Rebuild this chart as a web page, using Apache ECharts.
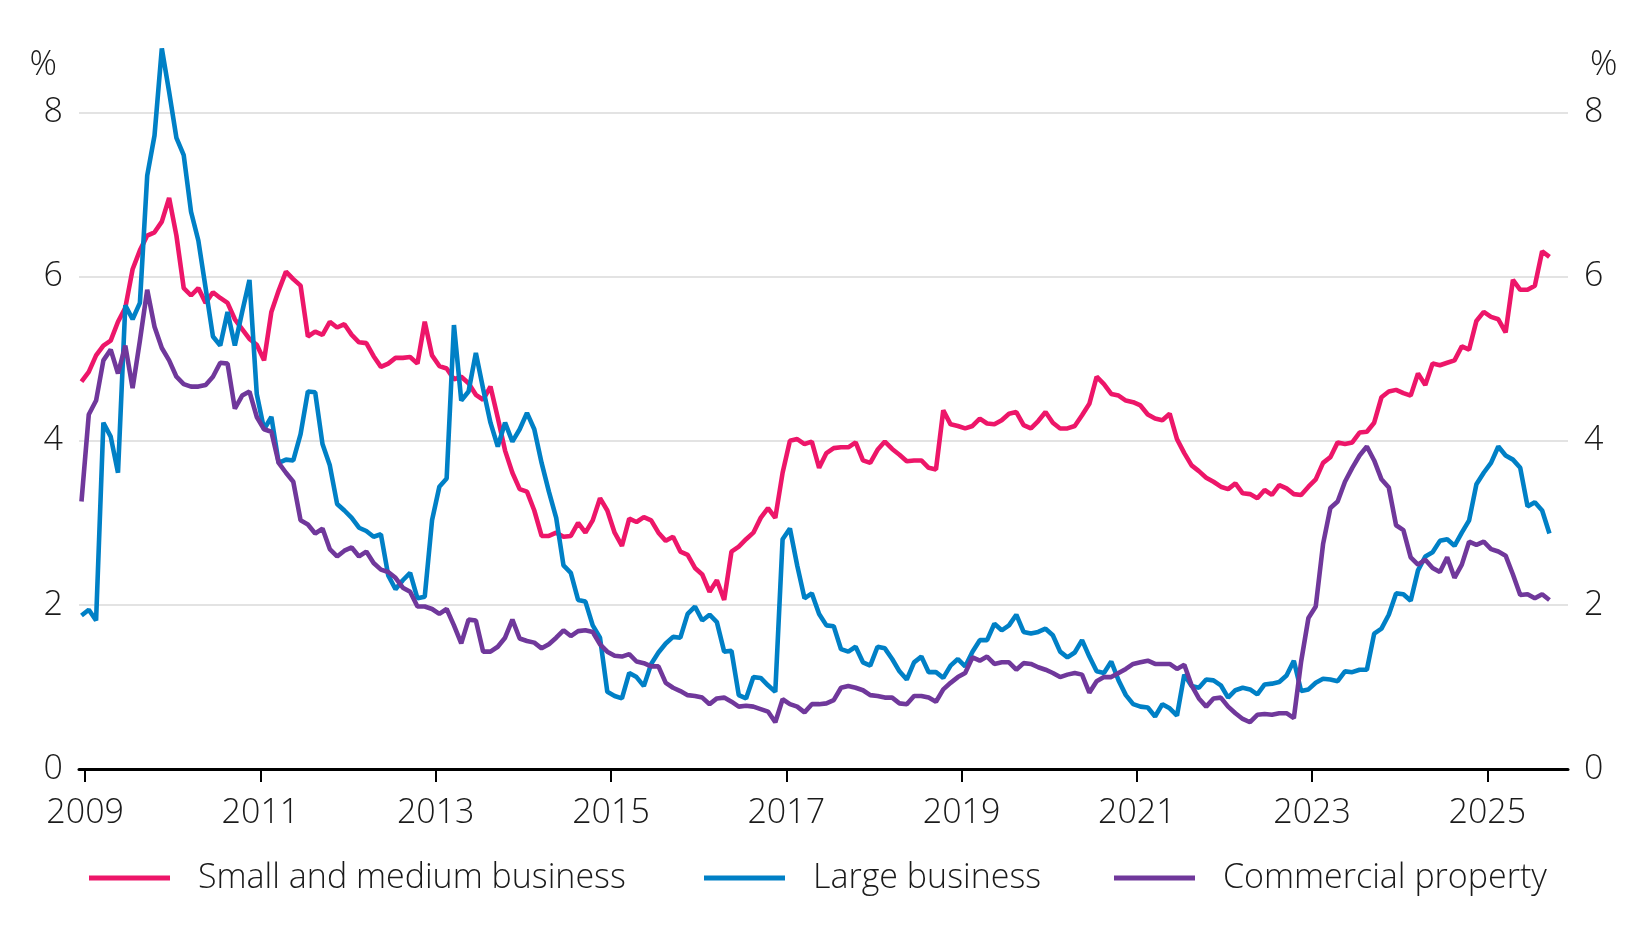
<!DOCTYPE html>
<html>
<head>
<meta charset="utf-8">
<title>Business lending</title>
<script src="https://cdn.jsdelivr.net/npm/echarts@6/dist/echarts.min.js"></script>
<style>
  html, body { margin: 0; padding: 0; background: #fff; }
  #myChart { width: 1648px; height: 944px; }
</style>
</head>
<body>
<div id="myChart"></div>
<script>
// monthly, Dec 2008 .. Sep 2025 (values in %)
const smallMedium = [
  4.72, 4.84, 5.04, 5.16, 5.22, 5.45, 5.62, 6.09, 6.32, 6.50, 6.54, 6.67, 6.96, 6.50, 5.86, 5.77, 5.86, 5.68, 5.81, 5.74, 5.68, 5.48, 5.36, 5.24, 5.17, 4.98,
  5.57, 5.83, 6.06, 5.97, 5.89, 5.27, 5.33, 5.29, 5.45, 5.38, 5.42, 5.29, 5.20, 5.19, 5.03, 4.90, 4.94, 5.01, 5.01, 5.02, 4.94, 5.45, 5.04, 4.91, 4.88,
  4.75, 4.78, 4.70, 4.56, 4.50, 4.66, 4.28, 3.88, 3.61, 3.41, 3.38, 3.15, 2.84, 2.84, 2.88, 2.83, 2.84, 3.00, 2.88, 3.03, 3.30, 3.15, 2.88, 2.72, 3.05, 3.01,
  3.07, 3.03, 2.88, 2.78, 2.83, 2.65, 2.61, 2.45, 2.37, 2.16, 2.30, 2.06, 2.65, 2.71, 2.80, 2.88, 3.06, 3.18, 3.06, 3.61, 4.00, 4.02, 3.96, 3.99, 3.67, 3.85,
  3.91, 3.92, 3.92, 3.98, 3.76, 3.73, 3.89, 3.99, 3.90, 3.83, 3.75, 3.76, 3.76, 3.67, 3.65, 4.37, 4.20, 4.18, 4.15, 4.18, 4.27, 4.21, 4.20, 4.25, 4.33, 4.35,
  4.19, 4.15, 4.24, 4.35, 4.22, 4.15, 4.15, 4.18, 4.31, 4.45, 4.78, 4.69, 4.57, 4.55, 4.49, 4.47, 4.43, 4.32, 4.27, 4.25, 4.33, 4.02, 3.85, 3.70, 3.63, 3.55,
  3.50, 3.44, 3.41, 3.48, 3.36, 3.35, 3.30, 3.40, 3.34, 3.46, 3.42, 3.35, 3.34, 3.44, 3.53, 3.73, 3.80, 3.98, 3.96, 3.98, 4.10, 4.11, 4.22, 4.53, 4.60, 4.62,
  4.58, 4.55, 4.82, 4.68, 4.94, 4.92, 4.95, 4.98, 5.15, 5.11, 5.46, 5.57, 5.51, 5.48, 5.32, 5.96, 5.84, 5.84, 5.89, 6.31, 6.24
];
const large = [
  1.87, 1.94, 1.81, 4.22, 4.05, 3.61, 5.65, 5.48, 5.68, 7.23, 7.72, 8.78, 8.25, 7.69, 7.48, 6.79, 6.44, 5.86, 5.27, 5.16, 5.57, 5.16, 5.57, 5.96, 4.57, 4.14,
  4.29, 3.73, 3.77, 3.76, 4.08, 4.60, 4.59, 3.96, 3.70, 3.23, 3.15, 3.06, 2.94, 2.90, 2.83, 2.86, 2.36, 2.19, 2.30, 2.39, 2.08, 2.10, 3.03, 3.44, 3.54,
  5.41, 4.49, 4.60, 5.07, 4.63, 4.22, 3.93, 4.22, 3.99, 4.14, 4.34, 4.14, 3.73, 3.38, 3.06, 2.48, 2.39, 2.06, 2.04, 1.75, 1.60, 0.94, 0.89, 0.86, 1.17, 1.12,
  1.01, 1.28, 1.42, 1.53, 1.61, 1.60, 1.89, 1.98, 1.81, 1.88, 1.79, 1.43, 1.44, 0.90, 0.86, 1.12, 1.11, 1.02, 0.94, 2.80, 2.93, 2.48, 2.08, 2.14, 1.89, 1.75,
  1.74, 1.46, 1.43, 1.49, 1.30, 1.26, 1.49, 1.47, 1.34, 1.19, 1.09, 1.30, 1.37, 1.18, 1.18, 1.11, 1.26, 1.34, 1.25, 1.43, 1.57, 1.57, 1.77, 1.69, 1.75, 1.88,
  1.67, 1.65, 1.67, 1.71, 1.63, 1.43, 1.36, 1.42, 1.57, 1.37, 1.19, 1.17, 1.31, 1.08, 0.90, 0.79, 0.76, 0.75, 0.64, 0.79, 0.74, 0.65, 1.15, 1.01, 0.99, 1.09,
  1.08, 1.02, 0.87, 0.96, 0.99, 0.97, 0.91, 1.03, 1.04, 1.06, 1.14, 1.32, 0.95, 0.97, 1.05, 1.10, 1.09, 1.07, 1.19, 1.18, 1.21, 1.21, 1.65, 1.71, 1.88, 2.14,
  2.13, 2.05, 2.42, 2.59, 2.64, 2.78, 2.80, 2.72, 2.88, 3.03, 3.47, 3.61, 3.73, 3.93, 3.82, 3.77, 3.67, 3.20, 3.25, 3.15, 2.87
];
const commercial = [
  3.26, 4.32, 4.49, 4.98, 5.11, 4.82, 5.16, 4.64, 5.22, 5.84, 5.39, 5.13, 4.98, 4.78, 4.69, 4.66, 4.66, 4.68, 4.78, 4.95, 4.94, 4.39, 4.55, 4.60, 4.29, 4.14,
  4.11, 3.73, 3.61, 3.50, 3.03, 2.98, 2.87, 2.93, 2.68, 2.59, 2.66, 2.70, 2.59, 2.65, 2.51, 2.43, 2.40, 2.33, 2.21, 2.16, 1.98, 1.98, 1.95, 1.89, 1.95,
  1.75, 1.53, 1.82, 1.81, 1.43, 1.43, 1.49, 1.60, 1.82, 1.59, 1.56, 1.54, 1.47, 1.52, 1.60, 1.69, 1.62, 1.68, 1.69, 1.67, 1.52, 1.43, 1.38, 1.37, 1.40, 1.31,
  1.29, 1.25, 1.25, 1.05, 0.99, 0.95, 0.90, 0.89, 0.87, 0.79, 0.86, 0.87, 0.82, 0.76, 0.77, 0.76, 0.73, 0.70, 0.57, 0.85, 0.79, 0.76, 0.69, 0.79, 0.79, 0.80,
  0.84, 0.99, 1.01, 0.99, 0.96, 0.90, 0.89, 0.87, 0.87, 0.80, 0.79, 0.89, 0.89, 0.87, 0.82, 0.97, 1.05, 1.12, 1.17, 1.36, 1.32, 1.37, 1.28, 1.30, 1.30, 1.21,
  1.29, 1.28, 1.24, 1.21, 1.17, 1.12, 1.15, 1.17, 1.15, 0.93, 1.07, 1.12, 1.12, 1.17, 1.22, 1.28, 1.30, 1.32, 1.28, 1.28, 1.28, 1.22, 1.27, 1.02, 0.86, 0.76,
  0.86, 0.87, 0.76, 0.68, 0.61, 0.57, 0.66, 0.67, 0.66, 0.68, 0.68, 0.62, 1.31, 1.84, 1.98, 2.74, 3.18, 3.26, 3.50, 3.67, 3.82, 3.93, 3.76, 3.53, 3.43, 2.97,
  2.91, 2.58, 2.49, 2.55, 2.45, 2.40, 2.58, 2.33, 2.49, 2.77, 2.73, 2.77, 2.68, 2.65, 2.60, 2.37, 2.12, 2.13, 2.08, 2.13, 2.06
];
const yearTicks = [2009, 2011, 2013, 2015, 2017, 2019, 2021, 2023, 2025];
const seriesNames = ['Small and medium business', 'Large business', 'Commercial property'];

// first observation is mid-December 2008, one point a month after that
const firstMonth = 2008 + 11.5 / 12;
function toPoints(values) {
  return values.map(function (v, i) { return [firstMonth + i / 12, v]; });
}

const colors = ['#ED1669', '#0080C6', '#70389B'];
const font = '"Open Sans", "Noto Sans", sans-serif';
const textCol = '#1a1a1a';
const fs = 34;

let myChart = echarts.init(document.getElementById('myChart'));

function yAxisOf(side) {
  return {
    type: 'value',
    position: side,
    min: 0,
    max: 8,
    interval: 2,
    name: '%',
    nameLocation: 'end',
    nameGap: 30,
    nameTextStyle: {
      color: textCol, fontSize: fs, fontFamily: font, fontWeight: 300,
      align: side === 'left' ? 'right' : 'left',
      padding: side === 'left' ? [0, 22, 0, 0] : [0, 0, 0, 22]
    },
    axisLine: { show: false },
    axisTick: { show: false },
    axisLabel: {
      margin: 16,
      color: textCol, fontSize: fs, fontFamily: font, fontWeight: 300
    },
    splitLine: side === 'left'
      ? { show: true, lineStyle: { color: '#dadada', width: 1.5 } }
      : { show: false }
  };
}

function legendAt(idx, left) {
  return {
    data: [seriesNames[idx]],
    left: left,
    top: 856,
    icon: 'rect',
    itemWidth: 81,
    itemHeight: 5,
    textStyle: {
      color: textCol, fontSize: fs, fontFamily: font, fontWeight: 300,
      padding: [0, 0, 0, 23]
    }
  };
}

let option = {
  animation: false,
  color: colors,
  grid: { left: 79, right: 80, top: 112.5, bottom: 175, containLabel: false },
  legend: [legendAt(0, 84), legendAt(1, 699), legendAt(2, 1109)],
  xAxis: {
    type: 'value',
    min: 2008.93,
    max: 2025.92,
    splitLine: { show: false },
    axisLine: { show: true, onZero: false, lineStyle: { color: '#000', width: 3 } },
    axisTick: {
      show: true, length: 13, inside: false,
      customValues: yearTicks,
      lineStyle: { color: '#000', width: 2 }
    },
    axisLabel: {
      margin: 27,
      customValues: yearTicks,
      formatter: function (v) { return String(v); },
      color: textCol, fontSize: fs, fontFamily: font, fontWeight: 300
    }
  },
  yAxis: [yAxisOf('left'), yAxisOf('right')],
  series: seriesNames.map(function (name, k) {
    return {
      name: name,
      type: 'line',
      yAxisIndex: 0,
      showSymbol: false,
      symbol: 'none',
      clip: false,
      lineStyle: { width: 4.6, color: colors[k] },
      data: toPoints([smallMedium, large, commercial][k])
    };
  })
};

myChart.setOption(option);
</script>
</body>
</html>
